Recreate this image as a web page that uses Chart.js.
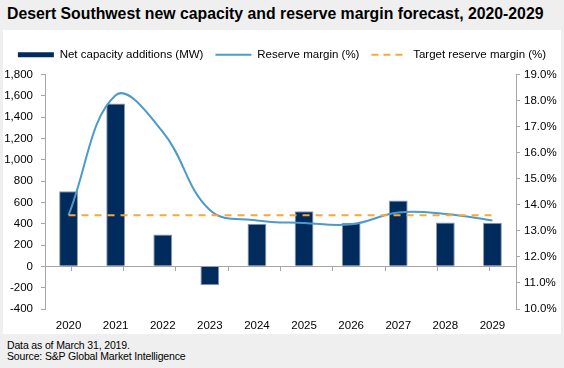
<!DOCTYPE html>
<html>
<head>
<meta charset="utf-8">
<script src="https://cdn.jsdelivr.net/npm/chart.js@4"></script>
<style>
  html, body { margin: 0; padding: 0; }
  body { width: 564px; height: 368px; background: #efefef; position: relative; overflow: hidden;
         font-family: "Liberation Sans", Arial, sans-serif; }
  #title { position: absolute; left: 7px; top: 5px; font-size: 15.8px; font-weight: bold; color: #000; white-space: nowrap; }
  #panel { position: absolute; left: 3px; top: 30px; width: 558px; height: 304px; background: #fff; }
  #footer { position: absolute; left: 7px; top: 340px; font-size: 10.5px; letter-spacing: -0.15px; line-height: 10.5px; color: #000; }
</style>
</head>
<body>
<div id="title">Desert Southwest new capacity and reserve margin forecast, 2020-2029</div>
<div id="panel"><canvas id="myChart"></canvas></div>
<div id="footer">Data as of March 31, 2019.<br>Source: S&amp;P Global Market Intelligence</div>
<script>
// chart values
const years = ['2020', '2021', '2022', '2023', '2024', '2025', '2026', '2027', '2028', '2029'];
const capacityAdditions = [705, 1527, 300, -178, 400, 518, 410, 618, 412, 410];   // MW
const reserveMargin = [13.6, 18.2, 16.8, 13.8, 13.4, 13.3, 13.25, 13.7, 13.65, 13.4]; // %
const targetReserve = [13.6, 13.6, 13.6, 13.6, 13.6, 13.6, 13.6, 13.6, 13.6, 13.6];   // %
const mwTicks = { min: -400, max: 1800, step: 200 };
const pctTicks = { min: 10, max: 19, step: 1 };

const NAVY = '#002b5c';
const BLUE = '#4b9acb';
const ORANGE = '#f8a839';
const AXIS_GREY = '#a6a6a6';

Chart.defaults.font.family = '"Liberation Sans", Arial, sans-serif';
Chart.defaults.color = '#000';

// a little extra room under the legend row
const legendGap = {
    id: 'legendGap',
    beforeInit: function (chart) {
        const fit = chart.legend.fit;
        chart.legend.fit = function () {
            fit.bind(chart.legend)();
            this.height += 4;
        };
    }
};

const data = {
    labels: years,
    datasets: [
        {
            type: 'bar',
            label: 'Net capacity additions (MW)',
            data: capacityAdditions,
            backgroundColor: NAVY,
            borderColor: '#8d99ab',
            borderWidth: 1,
            barPercentage: 0.4,
            categoryPercentage: 1,
            yAxisID: 'y',
            order: 3
        },
        {
            type: 'line',
            label: 'Reserve margin (%)',
            data: reserveMargin,
            borderColor: BLUE,
            borderWidth: 2,
            pointRadius: 0,
            tension: 0.4,
            yAxisID: 'y1',
            order: 2
        },
        {
            type: 'line',
            label: 'Target reserve margin (%)',
            data: targetReserve,
            borderColor: ORANGE,
            borderWidth: 2,
            borderDash: [7, 6],
            pointRadius: 0,
            yAxisID: 'y1',
            order: 1
        }
    ]
};

const config = {
    data: data,
    plugins: [legendGap],
    options: {
        responsive: true,
        maintainAspectRatio: false,
        animation: false,
        layout: { padding: { left: 0, right: 0, top: 7, bottom: 0 } },
        scales: {
            x: {
                grid: { display: false, drawTicks: false },
                border: { display: false },
                ticks: { padding: 10, font: { size: 11.5 } },
                afterFit: function (scale) { scale.height = 25; }
            },
            // zero line with category tick marks
            x2: {
                type: 'category',
                position: { y: 0 },
                grid: { drawOnChartArea: false, drawTicks: true, tickLength: 4, color: AXIS_GREY, offset: true },
                border: { color: AXIS_GREY },
                ticks: { display: false }
            },
            y: {
                position: 'left',
                min: mwTicks.min,
                max: mwTicks.max,
                grid: { drawOnChartArea: false, tickLength: 4, color: AXIS_GREY },
                border: { color: AXIS_GREY },
                ticks: {
                    stepSize: mwTicks.step,
                    padding: 8,
                    font: { size: 11.5 },
                    callback: function (v) { return v.toLocaleString('en-US'); }
                },
                afterFit: function (scale) { scale.width = 42; }
            },
            y1: {
                position: 'right',
                min: pctTicks.min,
                max: pctTicks.max,
                grid: { drawOnChartArea: false, tickLength: 4, color: AXIS_GREY },
                border: { color: AXIS_GREY },
                ticks: {
                    stepSize: pctTicks.step,
                    padding: 4,
                    font: { size: 11.5 },
                    callback: function (v) { return v.toFixed(1) + '%'; }
                },
                afterFit: function (scale) { scale.width = 45; }
            }
        },
        plugins: {
            legend: {
                display: true,
                position: 'top',
                labels: {
                    usePointStyle: true,
                    pointStyleWidth: 36,
                    boxWidth: 36,
                    boxHeight: 5,
                    padding: 12,
                    font: { size: 11.5 },
                    generateLabels: function () {
                        return [
                            { text: 'Net capacity additions (MW)', pointStyle: 'rect', fillStyle: NAVY, strokeStyle: NAVY, lineWidth: 0, datasetIndex: 0 },
                            { text: 'Reserve margin (%)', pointStyle: 'line', fillStyle: BLUE, strokeStyle: BLUE, lineWidth: 2, datasetIndex: 1 },
                            { text: 'Target reserve margin (%)', pointStyle: 'line', fillStyle: ORANGE, strokeStyle: ORANGE, lineWidth: 2, lineDash: [7, 5], datasetIndex: 2 }
                        ];
                    }
                }
            },
            tooltip: { enabled: false }
        }
    }
};

const capacityChart = new Chart(document.getElementById('myChart'), config);
</script>
</body>
</html>
